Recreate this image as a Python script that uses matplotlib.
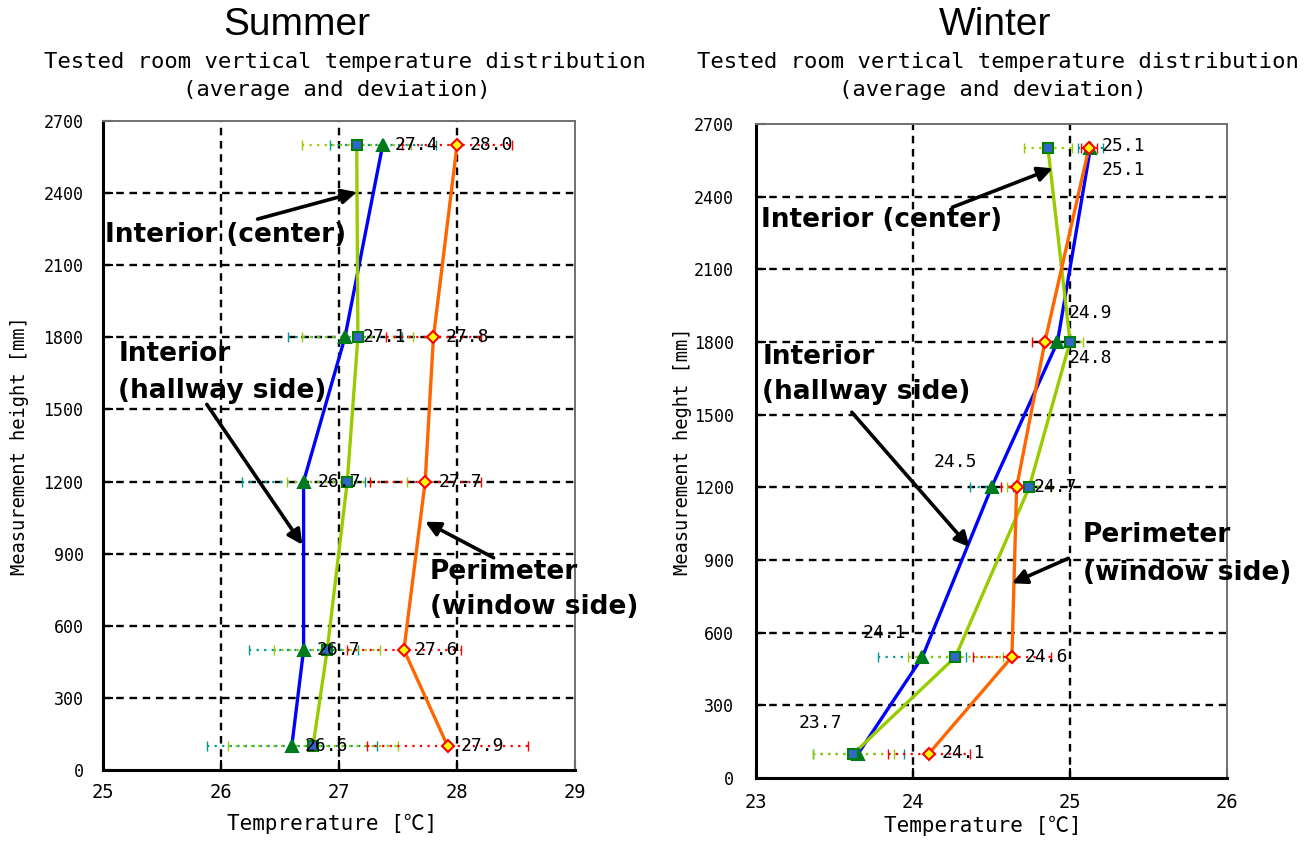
import matplotlib
matplotlib.use('Agg')
import matplotlib.pyplot as plt

# ---------------- data ----------------
heights = [100, 500, 1200, 1800, 2600]

summer_hallway = [26.6, 26.7, 26.7, 27.05, 27.37]
summer_hallway_dev = [0.72, 0.46, 0.52, 0.48, 0.45]
summer_center = [26.78, 26.9, 27.07, 27.16, 27.15]
summer_center_dev = [0.72, 0.45, 0.51, 0.47, 0.46]
summer_perimeter = [27.92, 27.55, 27.73, 27.8, 28.0]
summer_perimeter_dev = [0.68, 0.48, 0.47, 0.4, 0.47]

winter_hallway = [23.65, 24.06, 24.5, 24.92, 25.13]
winter_hallway_dev = [0.29, 0.28, 0.14, 0.1, 0.08]
winter_center = [23.62, 24.27, 24.74, 25.0, 24.86]
winter_center_dev = [0.26, 0.3, 0.14, 0.08, 0.15]
winter_perimeter = [24.1, 24.63, 24.66, 24.84, 25.12]
winter_perimeter_dev = [0.26, 0.25, 0.1, 0.08, 0.05]

summer_value_labels = ["27.4", "28.0", "27.1", "27.8", "26.7", "27.7", "26.7", "27.6", "26.6", "27.9"]
winter_value_labels = ["25.1", "25.1", "24.9", "24.8", "24.5", "24.7", "24.1", "24.6", "23.7", "24.1"]

summer_xticks = [25, 26, 27, 28, 29]
winter_xticks = [23, 24, 25, 26]
yticks = [0, 300, 600, 900, 1200, 1500, 1800, 2100, 2400, 2700]

# ---------------- styling ----------------
MONO = 'DejaVu Sans Mono'
MONO_LIST = ['DejaVu Sans Mono', 'Noto Sans CJK JP']
ANN = dict(family='DejaVu Sans', weight='bold', fontsize=19, color='black')

summer_label_pos = [(27.47, 2600), (28.11, 2600), (27.20, 1800), (27.90, 1800),
                    (26.82, 1200), (27.84, 1200), (26.81, 500), (27.64, 500),
                    (26.71, 100), (28.03, 100)]
winter_label_pos = [(25.20, 2611), (25.20, 2508), (24.99, 1918), (24.99, 1733),
                    (24.13, 1304), (24.77, 1200), (23.68, 598), (24.71, 500),
                    (23.27, 227), (24.18, 103)]

fig = plt.figure(figsize=(13.15, 8.41), dpi=100)
axL = fig.add_axes([0.0783, 0.0844, 0.3590, 0.7717])
axR = fig.add_axes([0.5749, 0.0749, 0.3582, 0.7777])


def draw_series(ax, vals, devs, line_c, err_c, marker, mfc, mec, ms):
    eb = ax.errorbar(vals, heights, xerr=devs, fmt='none', ecolor=err_c,
                     elinewidth=1.6, capsize=3.5, capthick=1.0, zorder=2)
    for lc in eb[2]:
        lc.set_linestyle((0, (1, 2.4)))
    ax.plot(vals, heights, color=line_c, lw=2.4, zorder=3)
    ax.plot(vals, heights, linestyle='none', marker=marker, markerfacecolor=mfc,
            markeredgecolor=mec, markersize=ms, markeredgewidth=1.5, zorder=4)


def style_axes(ax, xticks, xlabel, ylabel, xlab_coords, ylab_x, xpad, ypad):
    ax.set_xlim(xticks[0], xticks[-1])
    ax.set_ylim(0, 2700)
    ax.set_xticks(xticks)
    ax.set_yticks(yticks)
    ax.set_xticklabels([str(t) for t in xticks], family=MONO, fontsize=13.5)
    ax.set_yticklabels([str(t) for t in yticks], family=MONO, fontsize=12)
    ax.tick_params(axis='x', direction='in', length=7, width=1.5, pad=xpad)
    ax.tick_params(axis='y', direction='in', length=7, width=1.5, pad=ypad)
    ax.grid(True, color='black', linestyle=(0, (3.2, 2.4)), lw=1.7)
    xg = ax.get_xgridlines()
    yg = ax.get_ygridlines()
    for g in (xg[0], xg[-1], yg[0], yg[-1]):
        g.set_visible(False)
    ax.set_axisbelow(True)
    for s in ('left', 'bottom'):
        ax.spines[s].set_color('black')
        ax.spines[s].set_linewidth(2.2)
    for s in ('top', 'right'):
        ax.spines[s].set_color('#707070')
        ax.spines[s].set_linewidth(1.4)
    ax.set_xlabel(xlabel, family=MONO_LIST, fontsize=15, va='center')
    ax.xaxis.set_label_coords(*xlab_coords)
    ax.set_ylabel(ylabel, family=MONO, fontsize=13.5, va='center')
    ax.yaxis.set_label_coords(ylab_x, 0.5)


def arrow(ax, head, tail):
    ax.annotate('', xy=head, xytext=tail,
                arrowprops=dict(arrowstyle='-|>', color='black', lw=2.6,
                                mutation_scale=22, shrinkA=0, shrinkB=0),
                zorder=6)


# ---------------- Summer ----------------
draw_series(axL, summer_hallway, summer_hallway_dev, '#0000FF', '#009999', '^', '#007A1F', '#007A1F', 8)
draw_series(axL, summer_center, summer_center_dev, '#99CC00', '#99CC00', 's', '#3366CC', '#008000', 7)
draw_series(axL, summer_perimeter, summer_perimeter_dev, '#FF6600', '#FF0000', 'D', '#FFFF00', '#FF0000', 6.5)
for txt, (x, y) in zip(summer_value_labels, summer_label_pos):
    axL.text(x, y, txt, family=MONO, fontsize=13, ha='left', va='center', zorder=5)
style_axes(axL, summer_xticks, 'Temprerature [\u2103]', 'Measurement height [mm]',
           (0.485, -0.083), -0.176, 9, 14)

axL.text(25.02, 2225, 'Interior (center)', ha='left', va='center', **ANN)
arrow(axL, (27.15, 2404), (26.31, 2292))
axL.text(25.13, 1729, 'Interior', ha='left', va='center', **ANN)
axL.text(25.13, 1575, '(hallway side)', ha='left', va='center', **ANN)
arrow(axL, (26.69, 937), (25.88, 1521))
axL.text(27.77, 825, 'Perimeter', ha='left', va='center', **ANN)
axL.text(27.77, 679, '(window side)', ha='left', va='center', **ANN)
arrow(axL, (27.73, 1033), (28.31, 883))

# ---------------- Winter ----------------
draw_series(axR, winter_hallway, winter_hallway_dev, '#0000FF', '#009999', '^', '#007A1F', '#007A1F', 8)
draw_series(axR, winter_center, winter_center_dev, '#99CC00', '#99CC00', 's', '#3366CC', '#008000', 7)
draw_series(axR, winter_perimeter, winter_perimeter_dev, '#FF6600', '#FF0000', 'D', '#FFFF00', '#FF0000', 6.5)
for txt, (x, y) in zip(winter_value_labels, winter_label_pos):
    axR.text(x, y, txt, family=MONO, fontsize=13, ha='left', va='center', zorder=5)
style_axes(axR, winter_xticks, 'Temperature [\u2103]', 'Measurement heght [mm]',
           (0.482, -0.073), -0.157, 11, 16)

axR.text(23.03, 2302, 'Interior (center)', ha='left', va='center', **ANN)
arrow(axR, (24.89, 2517), (24.25, 2356))
axR.text(23.04, 1737, 'Interior', ha='left', va='center', **ANN)
axR.text(23.04, 1592, '(hallway side)', ha='left', va='center', **ANN)
arrow(axR, (24.36, 953), (23.61, 1510))
axR.text(25.08, 1002, 'Perimeter', ha='left', va='center', **ANN)
axR.text(25.08, 846, '(window side)', ha='left', va='center', **ANN)
arrow(axR, (24.63, 804), (24.99, 907))

# ---------------- titles ----------------
fig.text(0.226, 0.970, 'Summer', family='Liberation Sans', fontsize=28, ha='center', va='center')
fig.text(0.757, 0.970, 'Winter', family='Liberation Sans', fontsize=28, ha='center', va='center')
sub1 = 'Tested room vertical temperature distribution'
sub2 = '(average and deviation)'
fig.text(0.262, 0.926, sub1, family=MONO, fontsize=16, ha='center', va='center')
fig.text(0.256, 0.893, sub2, family=MONO, fontsize=16, ha='center', va='center')
fig.text(0.759, 0.926, sub1, family=MONO, fontsize=16, ha='center', va='center')
fig.text(0.755, 0.893, sub2, family=MONO, fontsize=16, ha='center', va='center')

fig.savefig('out.png', dpi=100)
